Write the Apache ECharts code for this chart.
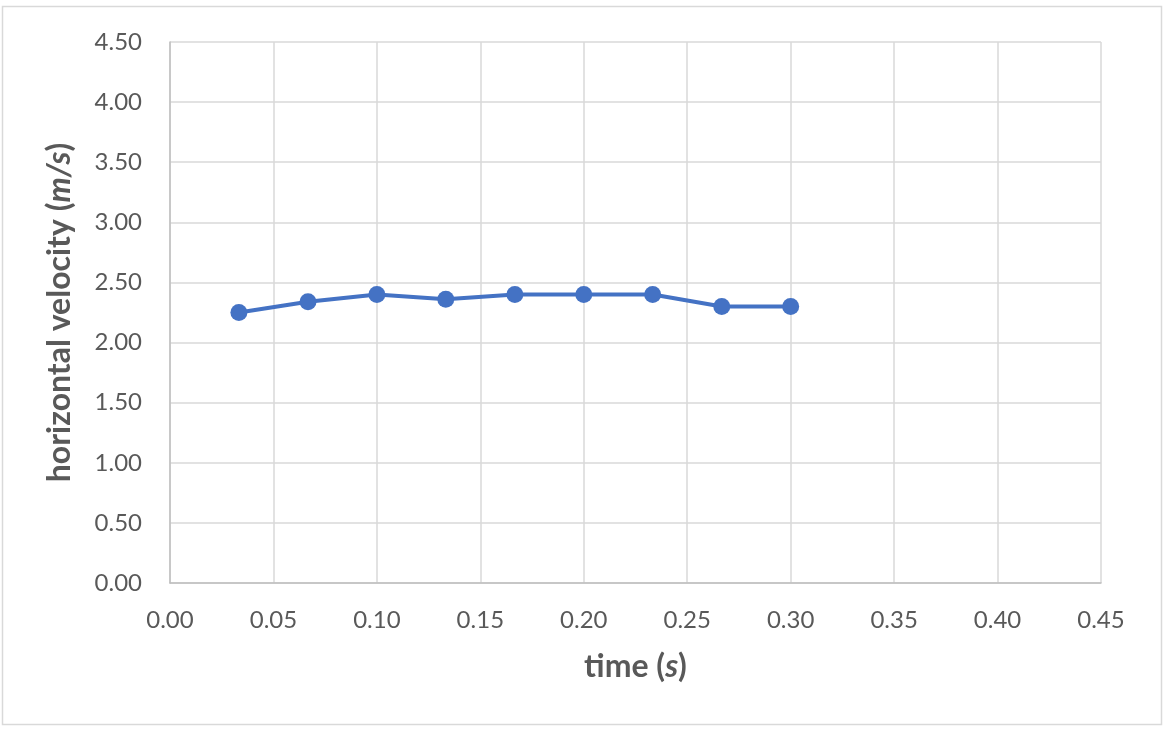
<!DOCTYPE html>
<html>
<head>
<meta charset="utf-8">
<script src="https://cdn.jsdelivr.net/npm/echarts@6/dist/echarts.min.js"></script>
<style>
  html, body { margin: 0; padding: 0; background: #fff; }
  #chart { width: 1166px; height: 730px; }
</style>
</head>
<body>
<div id="chart"></div>
<script>
  // time (s) and horizontal velocity (m/s)
  const times = [0.0333, 0.0667, 0.1, 0.1333, 0.1667, 0.2, 0.2333, 0.2667, 0.3];
  const velocities = [2.25, 2.34, 2.40, 2.36, 2.40, 2.40, 2.40, 2.30, 2.30];

  const points = times.map((t, i) => [t, velocities[i]]);

  const chart = echarts.init(document.getElementById('chart'));
  const labelFont = 'Lato, "Open Sans", sans-serif';
  const titleRich = {
    b: { fontFamily: labelFont, fontSize: 32, fontWeight: 'bold', color: '#595959' },
    i: { fontFamily: labelFont, fontSize: 32, fontWeight: 'bold', fontStyle: 'italic', color: '#595959' }
  };

  const option = {
    animation: false,
    backgroundColor: '#fff',
    graphic: [{
      type: 'rect',
      shape: { x: 2.5, y: 6.5, width: 1159, height: 718 },
      style: { fill: 'none', stroke: '#d9d9d9', lineWidth: 1.5 },
      silent: true
    }],
    grid: { left: 170, right: 65, top: 42, bottom: 147 },
    xAxis: {
      type: 'value',
      min: 0,
      max: 0.45,
      interval: 0.05,
      name: '{b|time (}{i|s}{b|)}',
      nameLocation: 'middle',
      nameGap: 68,
      nameTextStyle: { rich: titleRich },
      axisLine: { show: true, lineStyle: { color: '#bfbfbf', width: 1.5 } },
      axisTick: { show: false },
      axisLabel: {
        margin: 25,
        fontFamily: labelFont,
        fontSize: 24,
        color: '#595959',
        formatter: v => v.toFixed(2)
      },
      splitLine: { show: true, lineStyle: { color: '#d9d9d9', width: 1.5 } }
    },
    yAxis: {
      type: 'value',
      min: 0,
      max: 4.5,
      interval: 0.5,
      name: '{b|horizontal velocity (}{i|m/s}{b|)}',
      nameLocation: 'middle',
      nameGap: 94,
      nameTextStyle: { rich: titleRich },
      axisLine: { show: true, lineStyle: { color: '#bfbfbf', width: 1.5 } },
      axisTick: { show: false },
      axisLabel: {
        margin: 28,
        fontFamily: labelFont,
        fontSize: 24,
        color: '#595959',
        formatter: v => v.toFixed(2)
      },
      splitLine: { show: true, lineStyle: { color: '#d9d9d9', width: 1.5 } }
    },
    series: [{
      type: 'line',
      data: points,
      symbol: 'circle',
      symbolSize: 17,
      itemStyle: { color: '#4472c4' },
      lineStyle: { color: '#4472c4', width: 4 }
    }]
  };

  chart.setOption(option);
</script>
</body>
</html>
